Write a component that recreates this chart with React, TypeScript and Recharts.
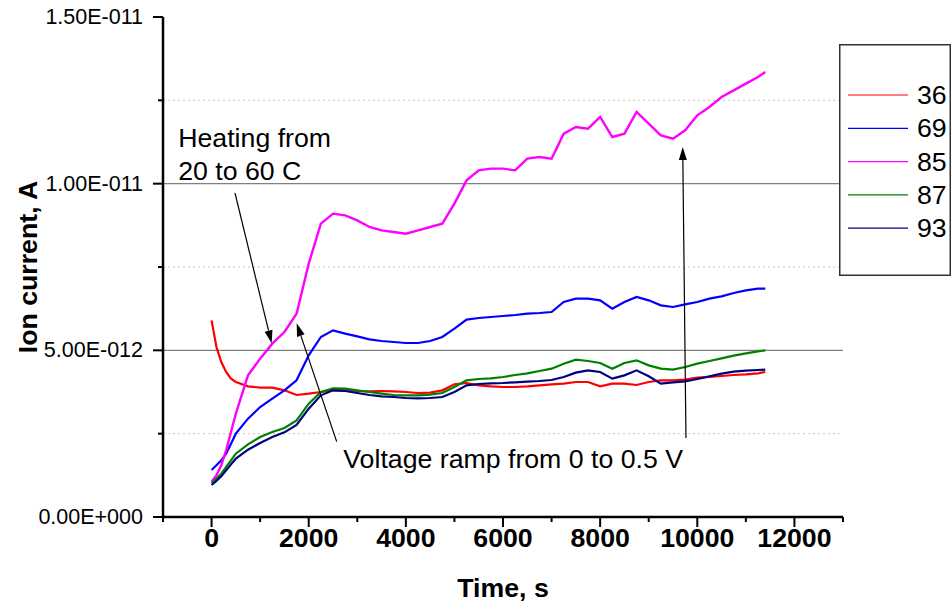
import React from 'react';
import { LineChart, Line, XAxis, YAxis, ReferenceLine, ReferenceDot, Legend, Label } from 'recharts';

const FONT = '"Liberation Sans", Arial, Helvetica, sans-serif';

// time, s
const times = [
  0, 100, 200, 300, 400, 500, 750, 1000, 1250, 1500, 1750, 2000, 2250, 2500, 2750, 3000,
  3250, 3500, 3750, 4000, 4250, 4500, 4750, 5000, 5250, 5500, 5750, 6000, 6250, 6500, 6750,
  7000, 7250, 7500, 7750, 8000, 8250, 8500, 8750, 9000, 9250, 9500, 9750, 10000, 10250,
  10500, 10750, 11000, 11250, 11400,
];

// ion current in units of 1E-012 A
const ion36 = [
  5.9, 5.1, 4.65, 4.35, 4.15, 4.05, 3.92, 3.88, 3.88, 3.8, 3.66, 3.7, 3.75, 3.8, 3.8, 3.78,
  3.77, 3.78, 3.77, 3.75, 3.72, 3.73, 3.8, 3.98, 4.02, 3.95, 3.92, 3.9, 3.9, 3.92, 3.95,
  3.98, 4.0, 4.05, 4.05, 3.92, 4.0, 4.0, 3.96, 4.05, 4.1, 4.1, 4.12, 4.18, 4.2,
  4.23, 4.26, 4.28, 4.31, 4.35,
];
const ion69 = [
  1.41, 1.55, 1.7, 1.9, 2.2, 2.5, 2.95, 3.3, 3.55, 3.8, 4.1, 4.85, 5.4, 5.6, 5.5, 5.42,
  5.33, 5.28, 5.25, 5.22, 5.22, 5.28, 5.4, 5.65, 5.92, 5.97, 6.0, 6.03, 6.06, 6.1, 6.12,
  6.15, 6.45, 6.55, 6.55, 6.5, 6.25, 6.45, 6.6, 6.5, 6.35, 6.3, 6.38, 6.45, 6.55,
  6.62, 6.72, 6.8, 6.85, 6.85,
];
const ion85 = [
  1.06, 1.25, 1.55, 2.0, 2.55, 3.1, 4.25, 4.75, 5.2, 5.55, 6.1, 7.6, 8.8, 9.1, 9.05, 8.9,
  8.7, 8.6, 8.55, 8.5, 8.6, 8.7, 8.8, 9.4, 10.1, 10.4, 10.45, 10.45, 10.4, 10.75, 10.8,
  10.75, 11.5, 11.7, 11.65, 12.0, 11.4, 11.5, 12.15, 11.8, 11.45, 11.35, 11.6, 12.05, 12.3,
  12.6, 12.8, 13.0, 13.2, 13.35,
];
const ion87 = [
  1.01, 1.15, 1.3, 1.5, 1.7, 1.9, 2.18, 2.4, 2.55, 2.67, 2.9, 3.4, 3.75, 3.86, 3.85, 3.8,
  3.75, 3.7, 3.66, 3.65, 3.65, 3.67, 3.72, 3.9, 4.1, 4.14, 4.16, 4.2, 4.26, 4.31, 4.38,
  4.45, 4.6, 4.72, 4.68, 4.62, 4.45, 4.62, 4.7, 4.55, 4.45, 4.42, 4.5, 4.6, 4.68,
  4.76, 4.84, 4.91, 4.97, 5.0,
];
const ion93 = [
  0.96, 1.08, 1.22, 1.4, 1.58, 1.75, 2.02, 2.22, 2.4, 2.54, 2.76, 3.25, 3.65, 3.8, 3.78, 3.72,
  3.66, 3.62, 3.6, 3.57, 3.56, 3.57, 3.6, 3.75, 3.95, 3.99, 4.01, 4.02, 4.04, 4.06, 4.08,
  4.11, 4.2, 4.33, 4.4, 4.35, 4.15, 4.25, 4.4, 4.22, 4.0, 4.04, 4.07, 4.14, 4.22,
  4.3, 4.36, 4.39, 4.41, 4.42,
];

const xTicks = [-1000, 0, 1000, 2000, 3000, 4000, 5000, 6000, 7000, 8000, 9000, 10000, 11000, 12000, 13000];
const yTicks = [0, 2.5, 5, 7.5, 10, 12.5, 15];

const data = times.map((t, i) => ({
  t,
  m36: ion36[i],
  m69: ion69[i],
  m85: ion85[i],
  m87: ion87[i],
  m93: ion93[i],
}));

const formatSci = (v: number) => {
  const a = v * 1e-12;
  if (a === 0) return '0.00E+000';
  const e = Math.floor(Math.log10(a) + 1e-9);
  const m = a / Math.pow(10, e);
  const sign = e < 0 ? '-' : '+';
  return `${m.toFixed(2)}E${sign}${String(Math.abs(e)).padStart(3, '0')}`;
};

const XTick = (props: any) => {
  const { x, y, payload } = props;
  const v = payload.value;
  const major = v % 2000 === 0;
  return (
    <g>
      <line x1={x} y1={y} x2={x} y2={y + (major ? 10 : 5)} stroke="#000" strokeWidth={2} />
      {major && v >= 0 && v <= 12000 && (
        <text x={x} y={y + 30} textAnchor="middle" fontFamily={FONT} fontSize={26.7} fontWeight="bold" fill="#000">
          {v}
        </text>
      )}
    </g>
  );
};

const YTick = (props: any) => {
  const { x, y, payload } = props;
  const v = payload.value;
  const major = v % 5 === 0;
  return (
    <g>
      <line x1={x - (major ? 10 : 5)} y1={y} x2={x} y2={y} stroke="#000" strokeWidth={2} />
      {major && (
        <text x={x - 20} y={y} textAnchor="end" dominantBaseline="central" fontFamily={FONT} fontSize={21.5} fill="#000">
          {formatSci(v)}
        </text>
      )}
    </g>
  );
};

const Arrow = (props: any) => {
  const { x1, y1, x2, y2 } = props;
  const ang = Math.atan2(y2 - y1, x2 - x1);
  const len = 13;
  const half = 4;
  const bx = x2 - len * Math.cos(ang);
  const by = y2 - len * Math.sin(ang);
  const px = -Math.sin(ang) * half;
  const py = Math.cos(ang) * half;
  return (
    <g>
      <line x1={x1} y1={y1} x2={bx} y2={by} stroke="#000" strokeWidth={1.2} />
      <polygon points={`${x2},${y2} ${bx + px},${by + py} ${bx - px},${by - py}`} fill="#000" />
    </g>
  );
};

const LegendBox = (props: any) => {
  const items = props.payload || [];
  return (
    <svg width={112} height={232} style={{ display: 'block' }}>
      <rect x={0.75} y={0.75} width={110.5} height={230.5} fill="#fff" stroke="#333" strokeWidth={1.5} />
      {items.map((it: any, i: number) => (
        <g key={it.value}>
          <line x1={9} x2={69} y1={51 + i * 33.3} y2={51 + i * 33.3} stroke={it.color} strokeWidth={1.2} />
          <text x={78} y={51 + i * 33.3} dominantBaseline="central" fontSize={26.7} fontFamily={FONT} fill="#000">
            {it.value}
          </text>
        </g>
      ))}
    </svg>
  );
};

export default function App() {
  return (
    <div style={{ position: 'absolute', left: 0, top: 0, background: '#fff' }}>
      <LineChart
        width={952}
        height={608}
        data={data}
        margin={{ top: 17, right: 109, left: 0, bottom: 0 }}
        style={{ fontFamily: FONT }}
      >
        <ReferenceLine y={2.5} stroke="#c4c4c4" strokeDasharray="2 3" />
        <ReferenceLine y={7.5} stroke="#c4c4c4" strokeDasharray="2 3" />
        <ReferenceLine y={12.5} stroke="#c4c4c4" strokeDasharray="2 3" />
        <ReferenceLine y={5} stroke="#808080" strokeWidth={1.2} />
        <ReferenceLine y={10} stroke="#808080" strokeWidth={1.2} />

        <XAxis
          dataKey="t"
          type="number"
          domain={[-1000, 13000]}
          ticks={xTicks}
          interval={0}
          height={91}
          tickSize={0}
          tickMargin={0}
          tickLine={false}
          tick={<XTick />}
          axisLine={{ stroke: '#000', strokeWidth: 2.5 }}
        >
          <Label
            content={(p: any) => (
              <text
                x={p.viewBox.x + p.viewBox.width / 2}
                y={597}
                textAnchor="middle"
                fontFamily={FONT}
                fontSize={26.7}
                fontWeight="bold"
                fill="#000"
              >
                Time, s
              </text>
            )}
          />
        </XAxis>
        <YAxis
          type="number"
          domain={[0, 15]}
          ticks={yTicks}
          interval={0}
          width={163}
          tickSize={0}
          tickMargin={0}
          tickLine={false}
          tick={<YTick />}
          axisLine={{ stroke: '#000', strokeWidth: 2.5 }}
        >
          <Label
            content={(p: any) => {
              const cx = 28;
              const cy = p.viewBox.y + p.viewBox.height / 2;
              return (
                <text
                  x={cx}
                  y={cy}
                  transform={`rotate(-90 ${cx} ${cy})`}
                  textAnchor="middle"
                  dominantBaseline="central"
                  fontFamily={FONT}
                  fontSize={26.7}
                  fontWeight="bold"
                  fill="#000"
                >
                  Ion current, A
                </text>
              );
            }}
          />
        </YAxis>

        <Line type="linear" dataKey="m36" name="36" stroke="#ff0000" strokeWidth={2.2} dot={false} isAnimationActive={false} />
        <Line type="linear" dataKey="m69" name="69" stroke="#0000ff" strokeWidth={2.2} dot={false} isAnimationActive={false} />
        <Line type="linear" dataKey="m85" name="85" stroke="#ff00ff" strokeWidth={2.4} dot={false} isAnimationActive={false} />
        <Line type="linear" dataKey="m87" name="87" stroke="#008000" strokeWidth={2.2} dot={false} isAnimationActive={false} />
        <Line type="linear" dataKey="m93" name="93" stroke="#000080" strokeWidth={2.2} dot={false} isAnimationActive={false} />

        <ReferenceLine segment={[{ x: 482, y: 9.72 }, { x: 1237, y: 5.21 }]} shape={Arrow} />
        <ReferenceLine segment={[{ x: 2576, y: 2.26 }, { x: 1752, y: 5.81 }]} shape={Arrow} />
        <ReferenceLine segment={[{ x: 9767, y: 2.37 }, { x: 9700, y: 11.1 }]} shape={Arrow} />

        <ReferenceDot
          x={-686}
          y={11.1}
          r={0}
          shape={(p: any) => (
            <text x={p.cx} y={p.cy} fontFamily={FONT} fontSize={26.7} fill="#000">
              Heating from
              <tspan x={p.cx} dy={33.3}>20 to 60 C</tspan>
            </text>
          )}
        />
        <ReferenceDot
          x={2712}
          y={1.46}
          r={0}
          shape={(p: any) => (
            <text x={p.cx} y={p.cy} fontFamily={FONT} fontSize={26.7} fill="#000">
              Voltage ramp from 0 to 0.5 V
            </text>
          )}
        />

        <Legend
          layout="horizontal"
          verticalAlign="middle"
          align="center"
          content={<LegendBox />}
          wrapperStyle={{ left: 839, top: 44, width: 112, height: 232 }}
        />
      </LineChart>
    </div>
  );
}
